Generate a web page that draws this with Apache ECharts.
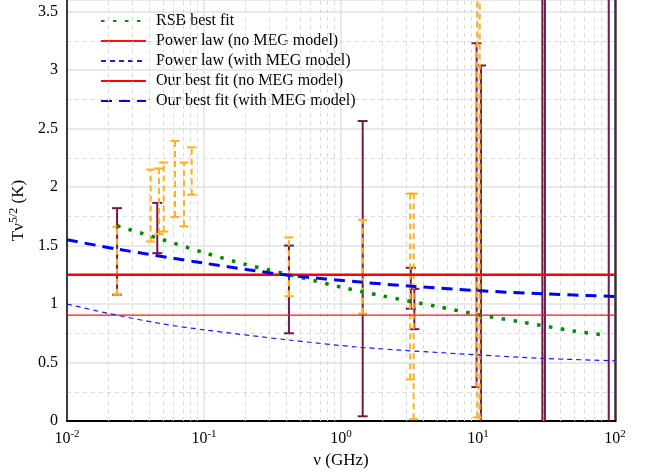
<!DOCTYPE html>
<html><head><meta charset="utf-8">
<script src="https://cdn.jsdelivr.net/npm/echarts@6/dist/echarts.min.js"></script>
<style>html,body{margin:0;padding:0;background:#fff}#c{width:651px;height:474px}</style>
</head><body><div id="c"></div>
<script>
// ---- data ----
const rsbNu = [0.0232, 0.05, 0.1, 0.2, 0.5, 1, 2, 5, 10, 20, 50, 90];
const rsbY  = [1.67, 1.55, 1.44, 1.34, 1.23, 1.145, 1.07, 0.98, 0.91, 0.85, 0.77, 0.73];

const plNoMegNu = [0.01, 100];
const plNoMegY  = [0.905, 0.905];

const plMegNu = [0.01, 0.02, 0.05, 0.1, 0.4, 1.4, 10, 30, 100];
const plMegY  = [1.0, 0.92, 0.83, 0.78, 0.695, 0.63, 0.565, 0.535, 0.515];

const bestNoMegNu = [0.01, 100];
const bestNoMegY  = [1.25, 1.25];

const bestMegNu = [0.01, 0.0232, 0.1, 0.236, 0.417, 1.44, 3.3, 10, 30, 100];
const bestMegY  = [1.55, 1.47, 1.35, 1.285, 1.245, 1.186, 1.152, 1.115, 1.087, 1.065];

// error bars: [nu, low, high]
const purpleBars = [
  [0.0232, 1.08, 1.82],
  [0.0456, 1.435, 1.865],
  [0.417, 0.75, 1.50],
  [1.44, 0.04, 2.565],
  [3.23, 0.96, 1.31],
  [3.43, 0.785, 1.13],
  [9.77, 0.29, 3.23],
  [10.5, -0.5, 3.04],
  [29.5, -0.5, 4.0],
  [30.8, -0.5, 4.0],
  [90.0, -0.5, 4.0]
];
const orangeBars = [
  [0.0232, 1.08, 1.66],
  [0.0408, 1.535, 2.15],
  [0.0469, 1.60, 2.16],
  [0.0508, 1.62, 2.21],
  [0.0614, 1.745, 2.395],
  [0.0714, 1.665, 2.21],
  [0.0813, 1.935, 2.34],
  [0.417, 1.067, 1.57],
  [1.44, 0.918, 1.72],
  [3.20, 0.355, 1.944],
  [3.39, 0.015, 1.944],
  [9.85, 0.03, 4.5],
  [10.3, -0.5, 4.5]
];

const legendNames = ['RSB best fit', 'Power law (no MEG model)', 'Power law (with MEG model)',
  'Our best fit (no MEG model)', 'Our best fit (with MEG model)'];
const yTicks = [0, 0.5, 1, 1.5, 2, 2.5, 3, 3.5];
const xDecades = [0.01, 0.1, 1, 10, 100];

// ---- chart ----
const FONT = 'Liberation Serif';
const pairs = (a, b) => a.map((v, i) => [v, b[i]]);

const minorX = [];
xDecades.slice(0, -1).forEach(d => { for (let k = 2; k <= 9; k++) minorX.push({xAxis: +(d * k).toPrecision(3)}); });

function errRender(color, dashed, capW, lw) {
  return function (params, api) {
    const x = api.value(0), lo = api.value(1), hi = api.value(2);
    const a = api.coord([x, lo]), b = api.coord([x, hi]);
    const st = {stroke: color, lineWidth: lw, fill: null, lineDash: dashed ? [6, 4] : null};
    const cap = {stroke: color, lineWidth: lw, fill: null};
    return {type: 'group', children: [
      {type: 'line', shape: {x1: a[0], y1: a[1], x2: b[0], y2: b[1]}, style: st},
      {type: 'line', shape: {x1: a[0] - capW / 2, y1: a[1], x2: a[0] + capW / 2, y2: a[1]}, style: cap},
      {type: 'line', shape: {x1: b[0] - capW / 2, y1: b[1], x2: b[0] + capW / 2, y2: b[1]}, style: cap}
    ]};
  };
}

const chart = echarts.init(document.getElementById('c'), null, {renderer: 'canvas'});
chart.setOption({
  animation: false,
  backgroundColor: '#fff',
  grid: {left: 67, right: 36, top: -2, bottom: 52, containLabel: false},
  legend: {
    data: legendNames, orient: 'vertical', left: 100, top: 13, padding: 0,
    itemWidth: 45, itemHeight: 14, itemGap: 4,
    itemStyle: {opacity: 0},
    textStyle: {fontFamily: FONT, fontSize: 16, color: '#000', padding: [0, 0, 0, 5]}
  },
  xAxis: {
    type: 'log', logBase: 10, min: 0.01, max: 100,
    name: 'ν (GHz)', nameLocation: 'middle', nameGap: 31,
    nameTextStyle: {fontFamily: FONT, fontSize: 17, color: '#000'},
    axisLine: {show: true, onZero: false, lineStyle: {color: '#000', width: 2}},
    axisTick: {show: false},
    axisLabel: {
      margin: 8, color: '#000', fontFamily: FONT, fontSize: 16,
      formatter: v => '10{s|' + Math.round(Math.log10(v)) + '}',
      rich: {s: {fontFamily: FONT, fontSize: 11, verticalAlign: 'top', padding: [0, 0, 8, 0], color: '#000'}}
    },
    splitLine: {show: true, lineStyle: {color: '#e2e2e2', width: 1.5}}
  },
  yAxis: [{
    type: 'value', min: 0, max: 3.6, interval: 0.5,
    name: '{t|Tν}{s|5/2}{t| (K)}', nameLocation: 'middle', nameGap: 30, nameRotate: 90,
    nameTextStyle: {rich: {
      t: {fontFamily: FONT, fontSize: 17, color: '#000'},
      s: {fontFamily: FONT, fontSize: 12, color: '#000', verticalAlign: 'top', padding: [0, 0, 9, 0]}
    }},
    axisLine: {show: true, lineStyle: {color: '#000', width: 1.5}},
    axisTick: {show: false},
    axisLabel: {margin: 9, color: '#000', fontFamily: FONT, fontSize: 16, showMaxLabel: false},
    splitLine: {show: true, lineStyle: {color: '#e2e2e2', width: 1.5}},
    minorTick: {show: false, splitNumber: 2},
    minorSplitLine: {show: true, lineStyle: {color: '#dadada', width: 1, type: [4, 4]}}
  }, {
    type: 'value', min: 0, max: 3.6, position: 'right',
    axisLine: {show: true, lineStyle: {color: '#333', width: 2.5}},
    axisTick: {show: false}, axisLabel: {show: false}, splitLine: {show: false}
  }],
  series: [
    {type: 'line', name: 'minor', data: [], silent: true, z: 0,
      markLine: {silent: true, symbol: 'none', label: {show: false},
        lineStyle: {color: '#dadada', width: 1, type: [4, 4]}, data: minorX}},
    {type: 'custom', name: 'purpleErr', data: purpleBars, clip: true, z: 10,
      renderItem: errRender('#6f1a4f', false, 10, 2)},
    {type: 'custom', name: 'orangeErr', data: orangeBars, clip: true, z: 11,
      renderItem: errRender('#ffb020', true, 9, 2)},
    {type: 'line', name: legendNames[0], data: pairs(rsbNu, rsbY), symbol: 'none', smooth: 0.3, z: 12,
      lineStyle: {color: '#008a00', width: 3.5, type: [3.5, 8.5]}, itemStyle: {color: '#008a00'}},
    {type: 'line', name: legendNames[1], data: pairs(plNoMegNu, plNoMegY), symbol: 'none', z: 12,
      lineStyle: {color: '#ff1010', width: 1.2}, itemStyle: {color: '#ff1010'}},
    {type: 'line', name: legendNames[2], data: pairs(plMegNu, plMegY), symbol: 'none', smooth: 0.3, z: 12,
      lineStyle: {color: '#1a1aff', width: 1.2, type: [5, 4]}, itemStyle: {color: '#1a1aff'}},
    {type: 'line', name: legendNames[3], data: pairs(bestNoMegNu, bestNoMegY), symbol: 'none', z: 12,
      lineStyle: {color: '#ff0000', width: 2.5}, itemStyle: {color: '#ff0000'}},
    {type: 'line', name: legendNames[4], data: pairs(bestMegNu, bestMegY), symbol: 'none', smooth: 0.3, z: 12,
      lineStyle: {color: '#0000ff', width: 3, type: [11, 7]}, itemStyle: {color: '#0000ff'}}
  ]
});
</script></body></html>
